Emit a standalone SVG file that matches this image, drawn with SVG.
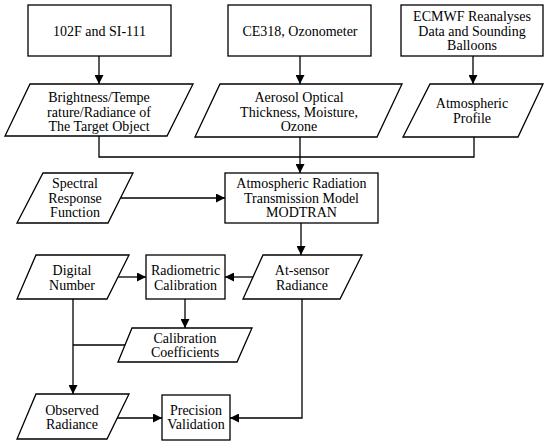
<svg xmlns="http://www.w3.org/2000/svg" width="550" height="445" viewBox="0 0 550 445">
<defs>
<style>
.n{fill:#fff;stroke:#000;stroke-width:1.3}
.t{font-family:"Liberation Serif","Times New Roman",serif;font-size:14px;fill:#000;text-anchor:middle}
.c{fill:none;stroke:#000;stroke-width:1.3}
</style>
<marker id="ah" markerUnits="userSpaceOnUse" markerWidth="9" markerHeight="9" viewBox="0 0 10 10" refX="10" refY="5" orient="auto">
<path d="M0,0 L10,5 L0,10 z" fill="#000"/>
</marker>
</defs>
<rect width="550" height="445" fill="#fff"/>
<g id="connectors">
<path class="c" d="M99,56 V84" marker-end="url(#ah)"/>
<path class="c" d="M300,56 V84" marker-end="url(#ah)"/>
<path class="c" d="M473,56 V84" marker-end="url(#ah)"/>
<path class="c" d="M99,136 V157 H474 V137"/>
<path class="c" d="M300,137 V173" marker-end="url(#ah)"/>
<path class="c" d="M121,198 H225" marker-end="url(#ah)"/>
<path class="c" d="M301,223 V255" marker-end="url(#ah)"/>
<path class="c" d="M253,277 H225" marker-end="url(#ah)"/>
<path class="c" d="M118,277 H146" marker-end="url(#ah)"/>
<path class="c" d="M185,299 V328" marker-end="url(#ah)"/>
<path class="c" d="M73,299 V394" marker-end="url(#ah)"/>
<path class="c" d="M125,345 H73"/>
<path class="c" d="M117,418 H162" marker-end="url(#ah)"/>
<path class="c" d="M302,299 V418 H230" marker-end="url(#ah)"/>
</g>
<g id="n1">
<rect class="n" x="28" y="5" width="143" height="51"/>
<text class="t" x="99.5" y="35.5">102F and SI-111</text>
</g>
<g id="n2">
<rect class="n" x="228" y="5" width="143" height="51"/>
<text class="t" x="300" y="35.5">CE318, Ozonometer</text>
</g>
<g id="n3">
<rect class="n" x="401" y="5" width="142" height="51"/>
<text class="t" x="472" y="21">ECMWF Reanalyses</text>
<text class="t" x="472" y="35.5">Data and Sounding</text>
<text class="t" x="472" y="50">Balloons</text>
</g>
<g id="n4">
<polygon class="n" points="30,84 193,84 167,136 5,136"/>
<text class="t" x="99" y="102">Brightness/Tempe</text>
<text class="t" x="99" y="116.5">rature/Radiance of</text>
<text class="t" x="99" y="131">The Target Object</text>
</g>
<g id="n5">
<polygon class="n" points="220,84 402,84 377,137 195,137"/>
<text class="t" x="299" y="102">Aerosol Optical</text>
<text class="t" x="299" y="116.5">Thickness, Moisture,</text>
<text class="t" x="299" y="131">Ozone</text>
</g>
<g id="n6">
<polygon class="n" points="430,84 543,84 518,137 403,137"/>
<text class="t" x="472" y="108">Atmospheric</text>
<text class="t" x="472" y="122.5">Profile</text>
</g>
<g id="n7">
<polygon class="n" points="43,173 133,173 108,223 17,223"/>
<text class="t" x="75" y="188">Spectral</text>
<text class="t" x="75" y="202.5">Response</text>
<text class="t" x="75" y="217">Function</text>
</g>
<g id="n8">
<rect class="n" x="225" y="173" width="153" height="50"/>
<text class="t" x="301.5" y="188">Atmospheric Radiation</text>
<text class="t" x="301.5" y="202.5">Transmission Model</text>
<text class="t" x="301.5" y="217">MODTRAN</text>
</g>
<g id="n9">
<polygon class="n" points="36,255 129,255 107,299 17,299"/>
<text class="t" x="72" y="275">Digital</text>
<text class="t" x="72" y="289.5">Number</text>
</g>
<g id="n10">
<rect class="n" x="146" y="255" width="79" height="44"/>
<text class="t" x="185.5" y="275">Radiometric</text>
<text class="t" x="185.5" y="289.5">Calibration</text>
</g>
<g id="n11">
<polygon class="n" points="263,255 362,255 340,299 243,299"/>
<text class="t" x="302" y="275">At-sensor</text>
<text class="t" x="302" y="289.5">Radiance</text>
</g>
<g id="n12">
<polygon class="n" points="132,328 252,328 237,362 118,362"/>
<text class="t" x="185" y="343">Calibration</text>
<text class="t" x="185" y="357">Coefficients</text>
</g>
<g id="n13">
<polygon class="n" points="36,394 129,394 107,439 17,439"/>
<text class="t" x="72" y="414.5">Observed</text>
<text class="t" x="72" y="429">Radiance</text>
</g>
<g id="n14">
<rect class="n" x="162" y="395" width="68" height="45"/>
<text class="t" x="196" y="414.5">Precision</text>
<text class="t" x="196" y="429">Validation</text>
</g>
</svg>
